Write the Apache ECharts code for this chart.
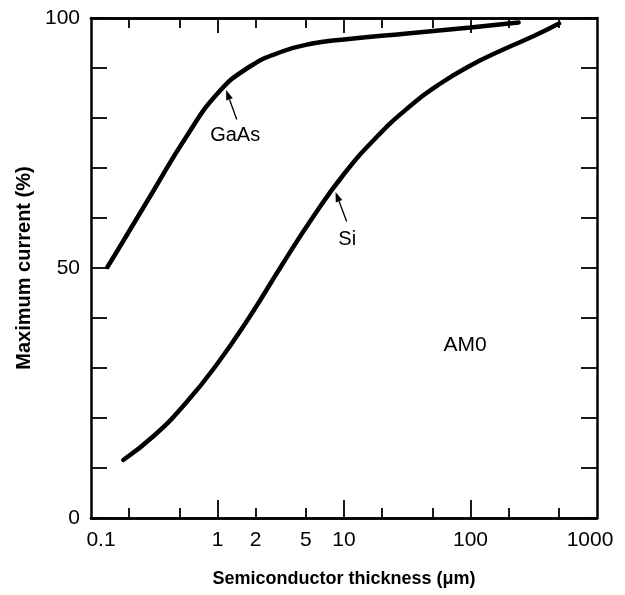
<!DOCTYPE html>
<html>
<head>
<meta charset="utf-8">
<script src="https://cdn.jsdelivr.net/npm/echarts@6/dist/echarts.min.js"></script>
<style>html,body{margin:0;padding:0;background:#fff}#c{width:625px;height:595px}</style>
</head>
<body>
<div id="c"></div>
<script>
// ---- data ----
const gaasThickness = [0.135, 0.178, 0.316, 0.562, 1, 1.78, 3.16, 5.62, 10, 31.6, 100, 240];
const gaasCurrent   = [50.2, 55.2, 65.7, 76.1, 84.9, 90.2, 93.2, 94.9, 95.7, 96.9, 98.1, 99.1];
const siThickness = [0.18, 0.316, 0.562, 1, 1.78, 3.16, 5.62, 10, 17.8, 31.6, 56.2, 100, 178, 316, 502];
const siCurrent   = [11.6, 16.5, 23.0, 30.9, 40.1, 50.2, 60.0, 68.8, 76.0, 81.9, 86.7, 90.5, 93.6, 96.4, 98.9];
const xLabelValues = [0.1, 1, 2, 5, 10, 100, 1000];
const xMajorTicks = [1, 10, 100];
const xMinorTicks = [0.2, 0.5, 2, 5, 20, 50, 200, 500];
const yLabelValues = [0, 50, 100];

const FONT = '"Liberation Sans", Arial, Helvetica, sans-serif';
const chart = echarts.init(document.getElementById('c'), null, {renderer: 'canvas'});

function xAxisDef(pos, ticks, len, showLabel) {
  return {
    type: 'log', logBase: 10, min: 0.1, max: 1000, position: pos,
    axisLine: {show: true, onZero: false, lineStyle: {color: '#000', width: 2.5}},
    axisTick: {show: true, inside: true, length: len, customValues: ticks, lineStyle: {color: '#000', width: 1.8}},
    axisLabel: showLabel ? {
      show: true, customValues: xLabelValues, color: '#000', fontFamily: FONT, fontSize: 21, margin: 12,
      formatter: function (v) {
        if (Math.abs(v - 0.1) < 1e-9) return '{l|0.1}';
        if (Math.abs(v - 1000) < 1e-6) return '{r|1000}';
        return String(Math.round(v));
      },
      rich: {
        l: {fontFamily: FONT, fontSize: 21, color: '#000', padding: [0, 0, 0, 20]},
        r: {fontFamily: FONT, fontSize: 21, color: '#000', padding: [0, 14, 0, 0]}
      }
    } : {show: false},
    splitLine: {show: false}, minorTick: {show: false}
  };
}

const xAxes = [
  Object.assign(xAxisDef('bottom', xMajorTicks, 18, true), {
    name: 'Semiconductor thickness (\u03bcm)', nameLocation: 'middle', nameGap: 52,
    nameTextStyle: {fontFamily: FONT, fontSize: 18, fontWeight: 'bold', color: '#000'}
  }),
  xAxisDef('bottom', xMinorTicks, 10, false),
  xAxisDef('top', xMajorTicks, 15, false),
  xAxisDef('top', xMinorTicks, 10, false)
];

function yAxisDef(pos, showLabel) {
  return {
    type: 'value', min: 0, max: 100, interval: 10, position: pos,
    axisLine: {show: true, onZero: false, lineStyle: {color: '#000', width: 2.5}},
    axisTick: {show: true, inside: true, length: 16, lineStyle: {color: '#000', width: 1.8}},
    axisLabel: showLabel ? {show: true, customValues: yLabelValues, color: '#000', fontFamily: FONT, fontSize: 21, margin: 11} : {show: false},
    splitLine: {show: false}
  };
}
const yAxes = [
  Object.assign(yAxisDef('left', true), {
    name: 'Maximum current (%)', nameLocation: 'middle', nameGap: 57, nameRotate: 90,
    nameTextStyle: {fontFamily: FONT, fontSize: 20, fontWeight: 'bold', color: '#000'}
  }),
  yAxisDef('right', false)
];

function pairs(xs, ys) { return xs.map((x, i) => [x, ys[i]]); }

chart.setOption({
  animation: false,
  backgroundColor: '#fff',
  grid: {left: 91, right: 28, top: 18, bottom: 77, containLabel: false},
  xAxis: xAxes,
  yAxis: yAxes,
  series: [
    {name: 'GaAs', type: 'line', xAxisIndex: 0, yAxisIndex: 0, data: pairs(gaasThickness, gaasCurrent),
     smooth: 0.5, showSymbol: false, lineStyle: {color: '#000', width: 4.5, cap: 'round'}},
    {name: 'Si', type: 'line', xAxisIndex: 0, yAxisIndex: 0, data: pairs(siThickness, siCurrent),
     smooth: 0.5, showSymbol: false, lineStyle: {color: '#000', width: 4.5, cap: 'round'}}
  ]
});

// annotations positioned in data space
function px(x, y) { return chart.convertToPixel({xAxisIndex: 0, yAxisIndex: 0}, [x, y]); }
function arrow(tail, tip) {
  const dx = tip[0] - tail[0], dy = tip[1] - tail[1];
  const L = Math.sqrt(dx * dx + dy * dy), ux = dx / L, uy = dy / L;
  const hl = 10, hw = 3.5;
  const bx = tip[0] - ux * hl, by = tip[1] - uy * hl;
  return [
    {type: 'line', shape: {x1: tail[0], y1: tail[1], x2: bx, y2: by}, style: {stroke: '#000', lineWidth: 1.3}},
    {type: 'polygon', shape: {points: [tip, [bx - uy * hw, by + ux * hw], [bx + uy * hw, by - ux * hw]]}, style: {fill: '#000'}}
  ];
}
const gTip = px(1.17, 85.6), gTail = px(1.42, 79.7), gText = px(1.38, 76.6);
const sTip = px(8.57, 65.2), sTail = px(10.5, 59.3), sText = px(10.6, 55.8);
const amText = px(90.8, 34.6);
const label = (t, p, size) => ({type: 'text', x: p[0], y: p[1],
  style: {text: t, fontFamily: FONT, fontSize: size, fill: '#000', align: 'center', verticalAlign: 'middle'}});
chart.setOption({
  graphic: [].concat(arrow(gTail, gTip), arrow(sTail, sTip),
    [label('GaAs', gText, 20), label('Si', sText, 20), label('AM0', amText, 21)])
});
</script>
</body>
</html>
